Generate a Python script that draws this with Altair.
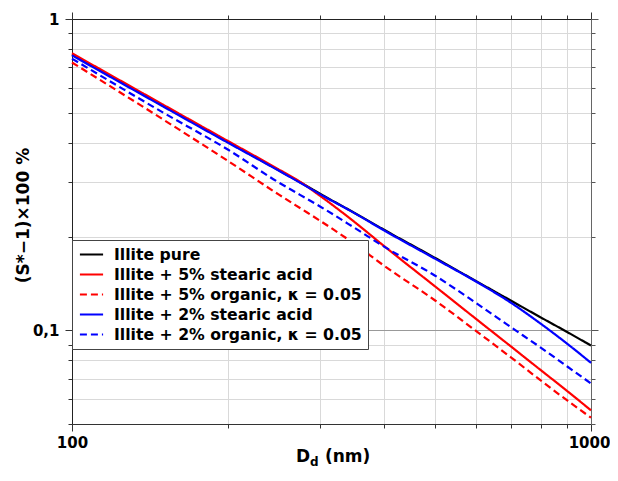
import altair as alt
import pandas as pd

# Particle dry diameter (nm)
D = [100, 150, 200, 250, 275, 300, 350, 400, 500, 600, 700, 800, 900, 1000]

# (S*-1) x 100 %
pure  = [0.769, 0.526, 0.402, 0.327, 0.299, 0.275, 0.2384, 0.210, 0.171, 0.144, 0.1247, 0.110, 0.0987, 0.0893]
sa5   = [0.776, 0.530, 0.405, 0.329, 0.300, 0.271, 0.223, 0.186, 0.1386, 0.1089, 0.0889, 0.0745, 0.0638, 0.0553]
org5  = [0.725, 0.475, 0.3495, 0.2733, 0.247, 0.2253, 0.1896, 0.1609, 0.1249, 0.0996, 0.0820, 0.0690, 0.0595, 0.0524]
sa2   = [0.764, 0.523, 0.400, 0.326, 0.298, 0.274, 0.238, 0.209, 0.170, 0.1435, 0.1228, 0.1050, 0.0905, 0.0786]
org2  = [0.746, 0.500, 0.380, 0.2987, 0.2723, 0.2504, 0.2135, 0.1853, 0.150, 0.1225, 0.1025, 0.0880, 0.0765, 0.0675]

series_names = [
    "Illite pure",
    "Illite + 5% stearic acid",
    "Illite + 5% organic, κ = 0.05",
    "Illite + 2% stearic acid",
    "Illite + 2% organic, κ = 0.05",
]
series_vals = [pure, sa5, org5, sa2, org2]
colors = ["#000000", "#ff0000", "#ff0000", "#0000ff", "#0000ff"]
dashes = [[1, 0], [1, 0], [7, 4], [1, 0], [7, 4]]

x_ticks = [100, 200, 300, 400, 500, 600, 700, 800, 900, 1000]
y_ticks = [0.05, 0.06, 0.07, 0.08, 0.09, 0.1, 0.2, 0.3, 0.4, 0.5, 0.6, 0.7, 0.8, 0.9, 1]

rows = []
for name, vals in zip(series_names, series_vals):
    for d, v in zip(D, vals):
        rows.append({"D": d, "S": v, "series": name})
df = pd.DataFrame(rows)

FONT = "DejaVu Sans"
major_x = "datum.value == 100 || datum.value == 1000"
major_y = "datum.value == 1 || datum.value == 0.1"

xscale = alt.Scale(type="log", domain=[100, 1000], nice=False)
yscale = alt.Scale(type="log", domain=[0.05, 1], nice=False)

color = alt.Color("series:N", sort=series_names,
                  scale=alt.Scale(domain=series_names, range=colors), title=None)
dash = alt.StrokeDash("series:N", sort=series_names,
                      scale=alt.Scale(domain=series_names, range=dashes), title=None)

lines = alt.Chart(df).mark_line(strokeWidth=2.2, interpolate="monotone").encode(
    x=alt.X("D:Q", scale=xscale, title=None,
            axis=alt.Axis(orient="bottom", values=x_ticks,
                          labelExpr="datum.value == 100 ? '100' : datum.value == 1000 ? '1000' : ''",
                          tickSize={"condition": {"test": major_x, "value": 7}, "value": 4},
                          grid=True, gridColor="#d9d9d9", domainColor="#333333",
                          tickColor="#333333", labelPadding=4, labelFlush=False,
                          labelOffset={"condition": {"test": "datum.value == 1000", "value": -2}, "value": 0},
                          labelFont=FONT, labelFontSize=15, labelFontWeight="bold",
                          labelColor="#000000")),
    y=alt.Y("S:Q", scale=yscale, title="(S*−1)×100 %",
            axis=alt.Axis(orient="left", values=y_ticks,
                          labelExpr="datum.value == 1 ? '1' : datum.value == 0.1 ? '0,1' : ''",
                          tickSize={"condition": {"test": major_y, "value": 7}, "value": 4},
                          grid=True,
                          gridColor={"condition": {"test": "datum.value == 0.1", "value": "#999999"}, "value": "#d9d9d9"},
                          domainColor="#222222", tickColor="#333333", labelPadding=6,
                          labelFont=FONT, labelFontSize=15, labelFontWeight="bold",
                          labelColor="#000000",
                          titleFont=FONT, titleFontSize=17, titleFontWeight="bold",
                          titleColor="#000000", titleAngle=-90, titleAlign="center",
                          titleBaseline="middle", titleX=-49, titleY=196)),
    color=color,
    strokeDash=dash,
    detail="series:N",
)

frame = alt.Chart(df).mark_line(opacity=0).encode(
    x=alt.X("D:Q", scale=xscale, title=None,
            axis=alt.Axis(orient="top", values=x_ticks, labels=False, grid=False,
                          tickSize={"condition": {"test": major_x, "value": 7}, "value": 4},
                          domainColor="#222222", tickColor="#333333")),
    y=alt.Y("S:Q", scale=yscale, title=None,
            axis=alt.Axis(orient="right", values=y_ticks, labels=False, grid=False,
                          tickSize={"condition": {"test": major_y, "value": 7}, "value": 4},
                          domainColor="#666666", tickColor="#555555")),
    detail="series:N",
)

dummy = pd.DataFrame({"t": [0]})
t_D = alt.Chart(dummy).mark_text(text="D", font=FONT, fontSize=17, fontWeight="bold",
                                 align="left", baseline="alphabetic", color="#000000").encode(
    x=alt.value(224), y=alt.value(443))
t_d = alt.Chart(dummy).mark_text(text="d", font=FONT, fontSize=12, fontWeight="bold",
                                 align="left", baseline="alphabetic", color="#000000").encode(
    x=alt.value(238), y=alt.value(447))
t_nm = alt.Chart(dummy).mark_text(text="(nm)", font=FONT, fontSize=17, fontWeight="bold",
                                  align="left", baseline="alphabetic", color="#000000").encode(
    x=alt.value(253), y=alt.value(443))

chart = alt.layer(lines, frame, t_D, t_d, t_nm).resolve_axis(
    x="independent", y="independent"
).resolve_scale(x="shared", y="shared").properties(
    width=519, height=405,
    autosize=alt.AutoSizeParams(type="none"),
    padding={"left": 64, "top": 11, "right": 19, "bottom": 45},
).configure_view(stroke=None).configure_legend(
    orient="none", legendX=0, legendY=221,
    fillColor="#ffffff", strokeColor="#444444", padding=6,
    symbolType="M-1.6,0H1.6", symbolSize=210, symbolStrokeWidth=2.2,
    symbolOffset=5, labelOffset=14,
    labelFont=FONT, labelFontSize=15.7, labelFontWeight="bold", labelColor="#000000",
    rowPadding=3, cornerRadius=0, labelLimit=400,
)

chart.save("out.html", embed_options={"renderer": "svg", "actions": False})
